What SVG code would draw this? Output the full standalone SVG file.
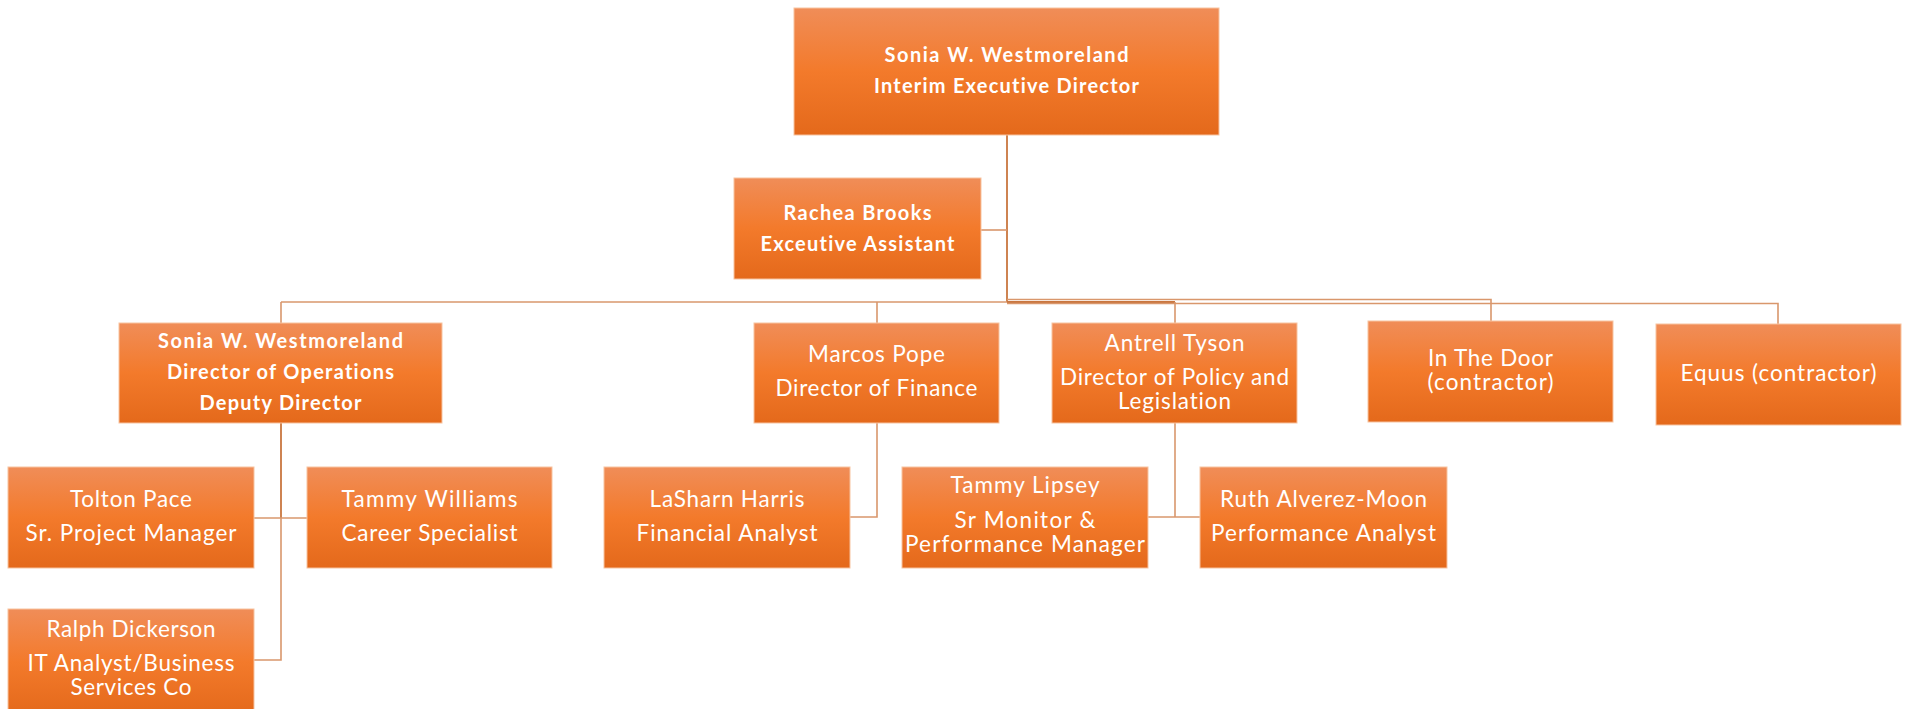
<svg xmlns="http://www.w3.org/2000/svg" width="1910" height="709" viewBox="0 0 1910 709">
<defs>
<linearGradient id="g" x1="0" y1="0" x2="0" y2="1">
<stop offset="0" stop-color="#f08d58"/>
<stop offset="0.5" stop-color="#f37a2b"/>
<stop offset="1" stop-color="#e4691b"/>
</linearGradient>
</defs>
<style>
.box{fill:url(#g);stroke:#f7c3a0;stroke-width:1}
.t{font-family:Lato,"Open Sans","Liberation Sans",sans-serif;font-size:22.5px;fill:#ffffff;text-anchor:middle;font-variant-ligatures:none}
.b{font-weight:bold;font-size:20px}
.c{fill:none;stroke:#d9976c;stroke-width:1.6}
.d{fill:none;stroke:#c9763f;stroke-width:1.8}
</style>
<rect width="1910" height="709" fill="#ffffff"/>
<g id="connectors">
<path class="d" d="M1007 135V302"/>
<path class="c" d="M981 230H1007"/>
<path class="c" d="M281 302H1007"/>
<path class="d" d="M1007 302H1175"/>
<path class="c" d="M1007 299.5H1491V321"/>
<path class="c" d="M1007 303.5H1778V324"/>
<path class="c" d="M281 302V323"/>
<path class="c" d="M877 302V323"/>
<path class="c" d="M1175 302V323"/>
<path class="d" d="M281 423V518"/>
<path class="c" d="M254 518H307"/>
<path class="c" d="M281 518V660H254"/>
<path class="c" d="M877 423V517H850"/>
<path class="c" d="M1175 423V517"/>
<path class="c" d="M1148 517H1200"/>
</g>
<g id="n-exec">
<rect class="box" x="794" y="8" width="425" height="127"/>
<text class="t b" x="1006.5" y="62" textLength="244" lengthAdjust="spacing">Sonia W. Westmoreland</text>
<text class="t b" x="1006.5" y="93" textLength="265" lengthAdjust="spacing">Interim Executive Director</text>
</g>
<g id="n-rachea">
<rect class="box" x="734" y="178" width="247" height="101"/>
<text class="t b" x="857.5" y="220" textLength="148" lengthAdjust="spacing">Rachea Brooks</text>
<text class="t b" x="857.5" y="251" textLength="194" lengthAdjust="spacing">Exceutive Assistant</text>
</g>
<g id="n-sonia-ops">
<rect class="box" x="119" y="323" width="323" height="100"/>
<text class="t b" x="280.5" y="348" textLength="245" lengthAdjust="spacing">Sonia W. Westmoreland</text>
<text class="t b" x="280.5" y="379" textLength="227" lengthAdjust="spacing">Director of Operations</text>
<text class="t b" x="280.5" y="410" textLength="162" lengthAdjust="spacing">Deputy Director</text>
</g>
<g id="n-marcos">
<rect class="box" x="754" y="323" width="245" height="100"/>
<text class="t" x="876.5" y="362" textLength="137" lengthAdjust="spacing">Marcos Pope</text>
<text class="t" x="876.5" y="396" textLength="202" lengthAdjust="spacing">Director of Finance</text>
</g>
<g id="n-antrell">
<rect class="box" x="1052" y="323" width="245" height="100"/>
<text class="t" x="1174.5" y="351" textLength="140" lengthAdjust="spacing">Antrell Tyson</text>
<text class="t" x="1174.5" y="385" textLength="229" lengthAdjust="spacing">Director of Policy and</text>
<text class="t" x="1174.5" y="409" textLength="113" lengthAdjust="spacing">Legislation</text>
</g>
<g id="n-inthedoor">
<rect class="box" x="1368" y="321" width="245" height="101"/>
<text class="t" x="1490.5" y="366" textLength="125" lengthAdjust="spacing">In The Door</text>
<text class="t" x="1490.5" y="390" textLength="126" lengthAdjust="spacing">(contractor)</text>
</g>
<g id="n-equus">
<rect class="box" x="1656" y="324" width="245" height="101"/>
<text class="t" x="1778.5" y="381" textLength="196" lengthAdjust="spacing">Equus (contractor)</text>
</g>
<g id="n-tolton">
<rect class="box" x="8" y="467" width="246" height="101"/>
<text class="t" x="131" y="507" textLength="122" lengthAdjust="spacing">Tolton Pace</text>
<text class="t" x="131" y="541" textLength="211" lengthAdjust="spacing">Sr. Project Manager</text>
</g>
<g id="n-tammyw">
<rect class="box" x="307" y="467" width="245" height="101"/>
<text class="t" x="429.5" y="507" textLength="176" lengthAdjust="spacing">Tammy Williams</text>
<text class="t" x="429.5" y="541" textLength="176" lengthAdjust="spacing">Career Specialist</text>
</g>
<g id="n-lasharn">
<rect class="box" x="604" y="467" width="246" height="101"/>
<text class="t" x="727" y="507" textLength="155" lengthAdjust="spacing">LaSharn Harris</text>
<text class="t" x="727" y="541" textLength="181" lengthAdjust="spacing">Financial Analyst</text>
</g>
<g id="n-tammyl">
<rect class="box" x="902" y="467" width="246" height="101"/>
<text class="t" x="1025" y="493" textLength="149" lengthAdjust="spacing">Tammy Lipsey</text>
<text class="t" x="1025" y="528" textLength="141" lengthAdjust="spacing">Sr Monitor &amp;</text>
<text class="t" x="1025" y="552" textLength="240" lengthAdjust="spacing">Performance Manager</text>
</g>
<g id="n-ruth">
<rect class="box" x="1200" y="467" width="247" height="101"/>
<text class="t" x="1323.5" y="507" textLength="207" lengthAdjust="spacing">Ruth Alverez-Moon</text>
<text class="t" x="1323.5" y="541" textLength="225" lengthAdjust="spacing">Performance Analyst</text>
</g>
<g id="n-ralph">
<rect class="box" x="8" y="609" width="246" height="106"/>
<text class="t" x="131" y="637" textLength="169" lengthAdjust="spacing">Ralph Dickerson</text>
<text class="t" x="131" y="671" textLength="207" lengthAdjust="spacing">IT Analyst/Business</text>
<text class="t" x="131" y="695" textLength="121" lengthAdjust="spacing">Services Co</text>
</g>
</svg>
